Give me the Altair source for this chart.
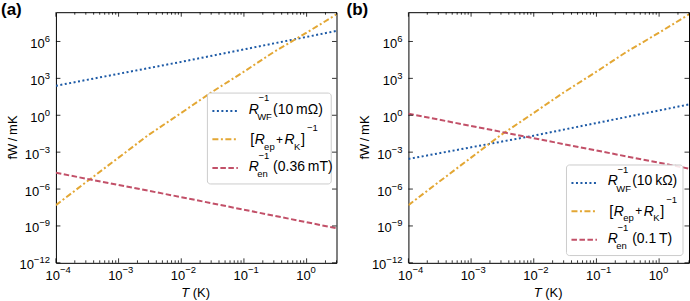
import altair as alt
import pandas as pd

# ---------------- data ----------------
T_ends = [1e-4, 1e-2, 3.0]
wf_a = [2.5e2, 2.2e4, 7.2e6]          # R_WF^-1 (10 mOhm)
en_a = [2.1e-5, 2.2e-7, 6.5e-10]      # R_en^-1 (0.36 mT)
wf_b = [2.8e-4, 2.2e-2, 7.6]          # R_WF^-1 (10 kOhm)
en_b = [1.35, 1.35e-2, 4.6e-5]        # R_en^-1 (0.1 T)

T_orange = [1e-4, 3e-4, 1e-3, 3e-3, 1e-2, 3e-2, 1e-1, 3e-1, 1.0, 3.0]
ep_k = [4.9e-8, 3.5e-6, 3.6e-4, 2.5e-2, 1.55, 71.0, 3.5e3, 1.4e5, 5.2e6, 1.6e8]

series_names = ["wf", "epk", "en"]
series_colors = ["#1d5aa6", "#e3a734", "#c25068"]
series_dash = [[2, 2.5], [6, 2.5, 2, 2.5], [5.5, 2.5]]

x_major = [1e-4, 1e-3, 1e-2, 1e-1, 1.0]
x_exps = ["\u22124", "\u22123", "\u22122", "\u22121", "0"]
x_minor = [k * 10.0 ** d for d in range(-4, 1) for k in range(2, 10) if k * 10.0 ** d <= 3.0]
y_major = [1e-12, 1e-9, 1e-6, 1e-3, 1.0, 1e3, 1e6]
y_exps = ["\u221212", "\u22129", "\u22126", "\u22123", "0", "3", "6"]

W, H = 281, 251
F = "Liberation Sans"
xscale = alt.Scale(type="log", domain=[1e-4, 3.0], nice=False)
yscale = alt.Scale(type="log", domain=[1e-12, 2.4e8], nice=False)
one = pd.DataFrame({"a": [0]})


def txt(text, x, y, size=14, style="normal", weight="normal", align="left", angle=0, baseline="alphabetic"):
    kw = dict(text=text, font=F, fontSize=size, fontStyle=style, fontWeight=weight,
              align=align, baseline=baseline, color="black")
    if angle:
        kw["angle"] = angle
    return alt.Chart(one).mark_text(**kw).encode(x=alt.value(x), y=alt.value(y))


def legend(bx, by, bw, bh, wf_txt, en_txt):
    layers = [alt.Chart(one).mark_rect(cornerRadius=3, fill="white", fillOpacity=0.85,
                                       stroke="#cccccc", strokeWidth=1)
              .encode(x=alt.value(bx), x2=alt.value(bx + bw), y=alt.value(by), y2=alt.value(by + bh))]
    for i, ly in enumerate([18, 46.3, 75]):
        layers.append(alt.Chart(one).mark_rule(color=series_colors[i], strokeDash=series_dash[i], strokeWidth=2)
                      .encode(x=alt.value(bx + 5), x2=alt.value(bx + 30.5), y=alt.value(by + ly)))
    t0 = bx + 41.3
    # row 1
    layers += [
        txt("R", t0, by + 20.5, style="italic"),
        txt("\u22121", t0 + 9.8, by + 7.9, size=9.5),
        txt("WF", t0 + 8.5, by + 27.2, size=9.5),
        txt(wf_txt, t0 + 24.5, by + 20.5),
    ]
    # row 2
    layers += [
        txt("[", t0 + 1.5, by + 51, size=14.5),
        txt("R", t0 + 6, by + 51, style="italic"),
        txt("ep", t0 + 15.5, by + 56.5, size=9.5),
        txt("+", t0 + 31, by + 50.5, size=12, align="center"),
        txt("R", t0 + 36, by + 51, style="italic"),
        txt("K", t0 + 45.5, by + 56.5, size=9.5),
        txt("]", t0 + 52.5, by + 51, size=14.5),
        txt("\u22121", t0 + 58.5, by + 37.7, size=9.5),
    ]
    # row 3
    layers += [
        txt("R", t0, by + 78, style="italic"),
        txt("\u22121", t0 + 9.8, by + 66.2, size=9.5),
        txt("en", t0 + 8.5, by + 84.5, size=9.5),
        txt(en_txt, t0 + 24.5, by + 78),
    ]
    return layers


def panel(label, label_x, wf, en, box, wf_txt, en_txt):
    rows = []
    for t, v in zip(T_ends, wf):
        rows.append({"T": t, "G": v, "s": "wf", "o": 0})
    for t, v in zip(T_orange, ep_k):
        rows.append({"T": t, "G": v, "s": "epk", "o": 1})
    for t, v in zip(T_ends, en):
        rows.append({"T": t, "G": v, "s": "en", "o": 2})
    df = pd.DataFrame(rows)

    lines = alt.Chart(df).mark_line(strokeWidth=2, clip=True).encode(
        x=alt.X("T:Q", scale=xscale,
                axis=alt.Axis(values=[1e-3, 1e-2, 1e-1, 1.0], grid=True, labels=False, ticks=False,
                              domain=False, title=None, gridColor="#b4b4b4", gridWidth=1)),
        y=alt.Y("G:Q", scale=yscale,
                axis=alt.Axis(values=[1e-9, 1e-6, 1e-3, 1.0, 1e3, 1e6], grid=True, labels=False,
                              ticks=False, domain=False, title=None, gridColor="#b4b4b4", gridWidth=1)),
        color=alt.Color("s:N", scale=alt.Scale(domain=series_names, range=series_colors), legend=None),
        strokeDash=alt.StrokeDash("s:N", scale=alt.Scale(domain=series_names, range=series_dash), legend=None),
        order=alt.Order("o:Q"),
    )

    xmaj = pd.DataFrame({"v": x_major, "e": x_exps})
    xmin = pd.DataFrame({"v": x_minor})
    ymaj = pd.DataFrame({"v": y_major, "e": y_exps})
    tick = dict(color="black", strokeWidth=0.8)

    def xt(d, y1, y2):
        return alt.Chart(d).mark_rule(**tick).encode(
            x=alt.X("v:Q", scale=xscale, axis=None), y=alt.value(y1), y2=alt.value(y2))

    def yt(x1, x2):
        return alt.Chart(ymaj).mark_rule(**tick).encode(
            y=alt.Y("v:Q", scale=yscale, axis=None), x=alt.value(x1), x2=alt.value(x2))

    ticks = [xt(xmaj, H, H - 4.5), xt(xmaj, 0, 4.5), xt(xmin, H, H - 2.5), xt(xmin, 0, 2.5),
             yt(0, 4.5), yt(W, W - 4.5)]

    xl10 = alt.Chart(xmaj).mark_text(text="10", font=F, fontSize=13, align="right", dx=4,
                                     baseline="alphabetic", color="black").encode(
        x=alt.X("v:Q", scale=xscale, axis=None), y=alt.value(H + 17.5))
    xle = alt.Chart(xmaj).mark_text(font=F, fontSize=9.5, align="left", dx=4,
                                    baseline="alphabetic", color="black").encode(
        x=alt.X("v:Q", scale=xscale, axis=None), y=alt.value(H + 10.5), text="e:N")
    yle = alt.Chart(ymaj).mark_text(font=F, fontSize=9.5, align="right", dy=0.5,
                                    baseline="alphabetic", color="black").encode(
        x=alt.value(-6), y=alt.Y("v:Q", scale=yscale, axis=None), text="e:N")
    ylabs = [xl10, xle, yle]
    ew = {1: 5.3, 2: 10.8, 3: 16.1}
    for n, w in ew.items():
        ylabs.append(alt.Chart(ymaj).transform_filter(f"length(datum.e) == {n}").mark_text(
            text="10", font=F, fontSize=13, align="right", dy=6.5, baseline="alphabetic",
            color="black").encode(x=alt.value(-6 - w), y=alt.Y("v:Q", scale=yscale, axis=None)))

    titles = [
        txt("fW\u2009/\u2009mK", -43, H / 2, size=13, align="center", angle=270, baseline="middle"),
        txt("T", 125.5, H + 34.5, size=13, style="italic"),
        txt("(K)", 137, H + 34.5, size=13),
        txt(label, label_x, 2.5, size=17, weight="bold"),
    ]

    leg = legend(*box, wf_txt, en_txt)
    return alt.layer(lines, *ticks, *ylabs, *titles, *leg).properties(width=W, height=H)


pa = panel("(a)", -55, wf_a, en_a, (151.7, 81, 124, 91), "(10\u2009m\u03a9)", "(0.36\u2009mT)")
pb = panel("(b)", -62, wf_b, en_b, (158.3, 153, 116.7, 90.7), "(10\u2009k\u03a9)", "(0.1\u2009T)")

chart = alt.hconcat(pa, pb, spacing=8).properties(
    padding={"left": 0, "top": 0, "right": 0, "bottom": 0}
).configure_view(stroke="black", strokeWidth=1)

chart.save("out.html", embed_options={"renderer": "svg", "actions": False})
